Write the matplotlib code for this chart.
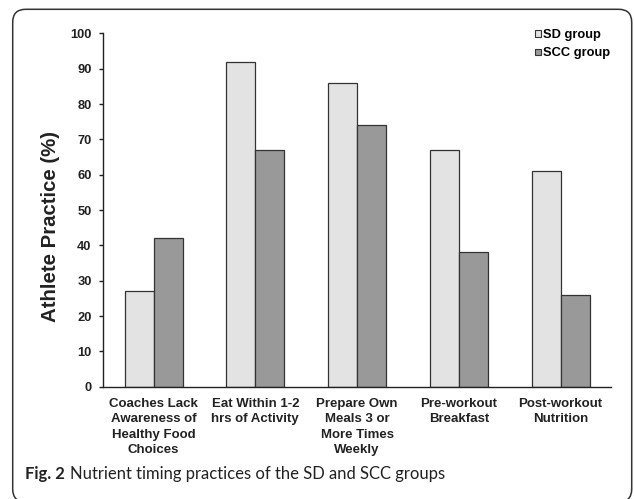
import numpy as np
import matplotlib
matplotlib.use("Agg")
import matplotlib.pyplot as plt
from matplotlib.patches import FancyBboxPatch, Patch

# Data
categories = [
    "Coaches Lack\nAwareness of\nHealthy Food\nChoices",
    "Eat Within 1-2\nhrs of Activity",
    "Prepare Own\nMeals 3 or\nMore Times\nWeekly",
    "Pre-workout\nBreakfast",
    "Post-workout\nNutrition",
]
sd_group = [27, 92, 86, 67, 61]
scc_group = [42, 67, 74, 38, 26]
series_names = ["SD group", "SCC group"]
yticks = list(range(0, 101, 10))

plt.rcParams["font.family"] = ["Liberation Sans", "DejaVu Sans"]

W, H = 634, 499
fig = plt.figure(figsize=(6.34, 4.99), dpi=100)
ax = fig.add_axes([0.162, 0.225, 0.8025, 0.708])

x = np.arange(len(categories))
w = 0.285
edge = "#333333"
ax.bar(x - w / 2, sd_group, w, color="#e3e3e3", edgecolor=edge, linewidth=0.9)
ax.bar(x + w / 2, scc_group, w, color="#999999", edgecolor=edge, linewidth=0.9)

ax.set_xlim(-0.5, 4.5)
ax.set_ylim(0, 100)
ax.set_yticks(yticks)
ax.set_xticks(x)
ax.set_xticklabels(categories, fontsize=9.5, fontweight="bold", color="#222222",
                   linespacing=1.38)
ax.tick_params(axis="x", length=0, pad=8)
ax.tick_params(axis="y", length=3, width=1, pad=5, labelsize=9.3,
               colors="#222222")
for lbl in ax.get_yticklabels():
    lbl.set_fontweight("bold")

for s in ["top", "right"]:
    ax.spines[s].set_visible(False)
for s in ["left", "bottom"]:
    ax.spines[s].set_color("#222222")
    ax.spines[s].set_linewidth(1.0)

fig.text(51 / W, 1 - 226 / H, "Athlete Practice (%)", rotation=90,
         fontsize=14.7, fontweight="bold", color="#222222",
         ha="center", va="center")

# Legend
handles = [Patch(facecolor="#e3e3e3", edgecolor=edge, linewidth=0.8),
           Patch(facecolor="#999999", edgecolor=edge, linewidth=0.8)]
fig.legend(handles, series_names, loc="upper left",
           bbox_to_anchor=(535 / W, 1 - 29 / H),
           frameon=False, prop={"weight": "bold", "size": 9.3},
           handlelength=0.5, handleheight=0.4, handletextpad=0.12,
           borderpad=0, borderaxespad=0, labelspacing=0.5)

# Rounded frame
frame = FancyBboxPatch((0.127, -0.03), 6.19, 4.897 + 0.03,
                       boxstyle="round,pad=0,rounding_size=0.13",
                       transform=fig.dpi_scale_trans, fill=False,
                       edgecolor="#333333", linewidth=1.1)
fig.patches.append(frame)

# Caption
cap_font = ["Lato", "DejaVu Sans"]
t1 = fig.text(25 / W, 1 - 474 / H, "Fig. 2", fontsize=12, fontweight="bold",
              family=cap_font, color="#222222", va="center")
fig.canvas.draw()
bb = t1.get_window_extent()
fig.text((bb.x1 + 5) / W, 1 - 474 / H,
         "Nutrient timing practices of the SD and SCC groups",
         fontsize=12, family=cap_font, color="#222222", va="center")

fig.savefig("out.png", dpi=100)
